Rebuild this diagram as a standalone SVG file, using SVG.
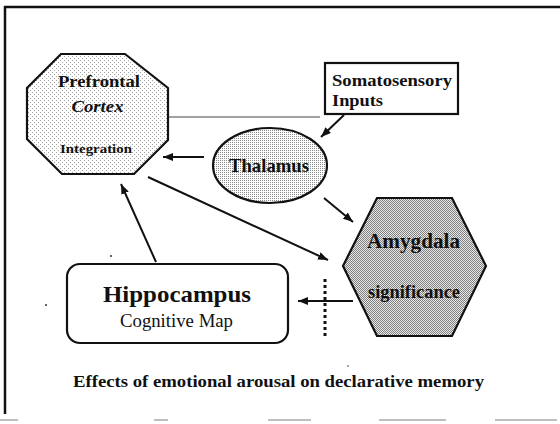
<svg xmlns="http://www.w3.org/2000/svg" width="560" height="424" viewBox="0 0 560 424">
<style>
.t{font-family:"Liberation Serif","Times New Roman",serif;fill:#111;}
.b{font-weight:bold;}
.edge{stroke:#111;stroke-width:2;fill:none;}
.shape{stroke:#111;stroke-width:2.2;}
</style>
<defs>
<pattern id="pPre" width="4" height="4" patternUnits="userSpaceOnUse">
<rect width="4" height="4" fill="#fff"/>
<rect x="0" y="0" width="1" height="1" fill="#a0a0a0"/>
<rect x="2" y="2" width="1" height="1" fill="#a0a0a0"/>
</pattern>
<pattern id="pTha" width="2" height="2" patternUnits="userSpaceOnUse">
<rect width="2" height="2" fill="#fff"/>
<rect x="0" y="0" width="1" height="1" fill="#888"/>
</pattern>
<pattern id="pAmy" width="2" height="2" patternUnits="userSpaceOnUse">
<rect width="2" height="2" fill="#e8e8e8"/>
<rect x="0" y="0" width="1" height="1" fill="#808080"/>
<rect x="1" y="1" width="1" height="1" fill="#808080"/>
</pattern>
<marker id="ah" viewBox="0 0 10 8" refX="10" refY="4" markerWidth="10" markerHeight="8" markerUnits="userSpaceOnUse" orient="auto">
<path d="M0,0 L10,4 L0,8 z" fill="#111"/>
</marker>
</defs>
<rect width="560" height="424" fill="#fff"/>
<g id="frame">
<line x1="4" y1="7" x2="560" y2="7" stroke="#111" stroke-width="2.5"/>
<line x1="5" y1="6" x2="5" y2="414" stroke="#111" stroke-width="2.5"/>
<g stroke="#aaa" stroke-width="1.5">
<line x1="0" y1="420" x2="18" y2="420"/>
<line x1="154" y1="420" x2="168" y2="420"/>
<line x1="268" y1="420" x2="311" y2="420"/>
<line x1="379" y1="420" x2="446" y2="420"/>
<line x1="495" y1="420" x2="557" y2="420"/>
</g>
</g>
<g id="connectors">
<line x1="168" y1="117" x2="320" y2="117" stroke="#444" stroke-width="1"/>
<line class="edge" x1="344" y1="115" x2="321" y2="137" marker-end="url(#ah)"/>
<line class="edge" x1="204" y1="157" x2="163" y2="157" marker-end="url(#ah)"/>
<line class="edge" x1="148" y1="177" x2="328" y2="260" marker-end="url(#ah)"/>
<line class="edge" x1="324" y1="198" x2="353" y2="222" marker-end="url(#ah)"/>
<line class="edge" x1="353" y1="301" x2="298" y2="301" marker-end="url(#ah)"/>
<line class="edge" x1="156" y1="262" x2="121" y2="184" marker-end="url(#ah)"/>
<line x1="325" y1="279" x2="325" y2="339" stroke="#111" stroke-width="3" stroke-dasharray="3 3"/>
</g>
<g id="prefrontal">
<polygon class="shape" points="61,54 125,54 168,88 168,140 134,174 62,174 27,139 27,88" fill="url(#pPre)"/>
<text class="t b" x="99" y="87" font-size="17" text-anchor="middle" textLength="82" lengthAdjust="spacingAndGlyphs">Prefrontal</text>
<text class="t b" x="97.5" y="112" font-size="17" font-style="italic" text-anchor="middle" textLength="52" lengthAdjust="spacingAndGlyphs">Cortex</text>
<text class="t b" x="96" y="153" font-size="13" text-anchor="middle" textLength="72" lengthAdjust="spacingAndGlyphs">Integration</text>
</g>
<g id="somatosensory">
<rect class="shape" x="325" y="63" width="133" height="51" fill="#fff"/>
<text class="t b" x="332" y="86" font-size="17" textLength="120" lengthAdjust="spacingAndGlyphs">Somatosensory</text>
<text class="t b" x="332" y="106" font-size="17" textLength="51" lengthAdjust="spacingAndGlyphs">Inputs</text>
</g>
<g id="thalamus">
<ellipse class="shape" cx="270" cy="165.5" rx="57" ry="37.5" fill="url(#pTha)"/>
<text class="t b" x="269" y="172" font-size="18" text-anchor="middle" textLength="80" lengthAdjust="spacingAndGlyphs">Thalamus</text>
</g>
<g id="amygdala">
<polygon class="shape" points="377,198 452,198 486,266 452,336 377,336 343,266" fill="url(#pAmy)"/>
<text class="t b" x="413.5" y="248" font-size="20" text-anchor="middle" textLength="93" lengthAdjust="spacingAndGlyphs">Amygdala</text>
<text class="t b" x="414" y="298" font-size="18" text-anchor="middle" textLength="92" lengthAdjust="spacingAndGlyphs">significance</text>
</g>
<g id="hippocampus">
<rect class="shape" x="67" y="264" width="221" height="79" rx="13" ry="13" fill="#fff"/>
<text class="t b" x="177" y="302" font-size="24" text-anchor="middle" textLength="148" lengthAdjust="spacingAndGlyphs">Hippocampus</text>
<text class="t" x="176.5" y="327" font-size="18.5" text-anchor="middle" textLength="113" lengthAdjust="spacingAndGlyphs">Cognitive Map</text>
</g>
<g id="caption">
<text class="t b" x="278.5" y="387" font-size="16" text-anchor="middle" textLength="411" lengthAdjust="spacingAndGlyphs">Effects of emotional arousal on declarative memory</text>
</g>
<g id="specks" fill="#333">
<circle cx="111" cy="256" r="1"/>
<circle cx="46" cy="305" r="1"/>
<circle cx="348" cy="366" r="0.8"/>
</g>
</svg>
